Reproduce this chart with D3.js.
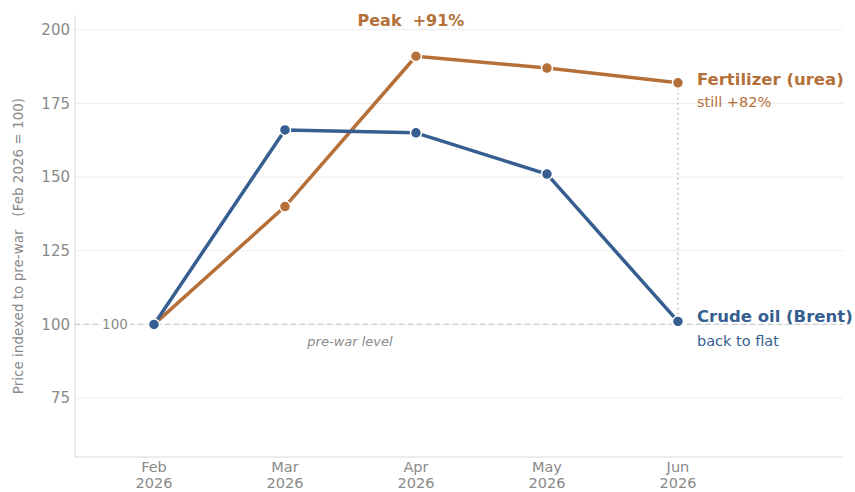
<!DOCTYPE html>
<html><head><meta charset="utf-8">
<script src="https://cdn.jsdelivr.net/npm/d3@7"></script>
<style>body{margin:0;background:#fff;}svg{display:block;font-family:"DejaVu Sans",sans-serif;}</style>
</head><body><svg id="c" width="855" height="492"></svg>
<script>
const months = ["Feb", "Mar", "Apr", "May", "Jun"];
const year = "2026";
const fertilizer = [100, 140, 191, 187, 182];
const crude = [100, 166, 165, 151, 101];
const yTicks = [75, 100, 125, 150, 175, 200];

const orange = "#b5703a", blue = "#365e91", gray = "#8a8a8a";
const svg = d3.select("#c");
const L = 75, R = 843, T = 15, B = 457;
const x = d3.scaleLinear().domain([-0.603, 5.26]).range([L, R]);
const y = d3.scaleLinear().domain([55, 205]).range([B, T]);

// gridlines
svg.append("g").selectAll("line").data(yTicks).join("line")
  .attr("x1", L).attr("x2", R).attr("y1", d => y(d)).attr("y2", d => y(d))
  .attr("stroke", "#ececec").attr("stroke-width", 1);

// axes lines
svg.append("line").attr("x1", L).attr("x2", L).attr("y1", T).attr("y2", B).attr("stroke", "#d8d8d8");
svg.append("line").attr("x1", L).attr("x2", R).attr("y1", B).attr("y2", B).attr("stroke", "#d8d8d8");

// y tick labels
svg.append("g").selectAll("text").data(yTicks).join("text")
  .attr("x", L - 5).attr("y", d => y(d)).attr("dy", "0.35em").attr("text-anchor", "end")
  .attr("font-size", 15).attr("fill", gray).text(d => d);

// y title
svg.append("text").attr("transform", `translate(23,${(T + B) / 2 + 10}) rotate(-90)`)
  .attr("text-anchor", "middle").attr("font-size", 13.5).attr("fill", gray)
  .attr("xml:space", "preserve").text("Price indexed to pre-war   (Feb 2026 = 100)");

// x tick labels
const xt = svg.append("g").selectAll("text").data(months).join("text")
  .attr("x", (d, i) => x(i)).attr("text-anchor", "middle").attr("font-size", 14.5).attr("fill", gray);
xt.append("tspan").attr("x", (d, i) => x(i)).attr("y", 472).text(d => d);
xt.append("tspan").attr("x", (d, i) => x(i)).attr("y", 488).text(year);

// baseline 100
svg.append("line").attr("x1", L).attr("x2", R).attr("y1", y(100)).attr("y2", y(100))
  .attr("stroke", "#c8ccd2").attr("stroke-dasharray", "5,4").attr("stroke-width", 1.2);
svg.append("rect").attr("x", 101).attr("y", y(100) - 8).attr("width", 29).attr("height", 16).attr("fill", "#fff");
svg.append("text").attr("x", 115).attr("y", y(100)).attr("dy", "0.35em").attr("text-anchor", "middle")
  .attr("font-size", 13.5).attr("fill", gray).text("100");
svg.append("text").attr("x", 350).attr("y", 346).attr("text-anchor", "middle")
  .attr("font-size", 13).attr("font-style", "italic").attr("fill", gray).text("pre-war level");

// dotted vertical at Jun
svg.append("line").attr("x1", x(4)).attr("x2", x(4)).attr("y1", y(fertilizer[4])).attr("y2", y(crude[4]))
  .attr("stroke", "#b8b8a8").attr("stroke-dasharray", "2,3").attr("stroke-width", 1.2);

const line = d3.line().x((d, i) => x(i)).y(d => y(d));
function series(data, color) {
  svg.append("path").datum(data).attr("d", line).attr("fill", "none")
    .attr("stroke", color).attr("stroke-width", 3.5).attr("stroke-linejoin", "round");
  svg.append("g").selectAll("circle").data(data).join("circle")
    .attr("cx", (d, i) => x(i)).attr("cy", d => y(d)).attr("r", 5.5)
    .attr("fill", color).attr("stroke", "#fff").attr("stroke-width", 1.5);
}
series(fertilizer, orange);
series(crude, blue);

// labels
svg.append("text").attr("x", x(4) + 19).attr("y", y(fertilizer[4]) + 2).attr("font-size", 16.5).attr("font-weight", "bold")
  .attr("fill", orange).text("Fertilizer (urea)");
svg.append("text").attr("x", x(4) + 19).attr("y", y(fertilizer[4]) + 24).attr("font-size", 14.5)
  .attr("fill", orange).text("still +82%");
svg.append("text").attr("x", x(4) + 19).attr("y", y(crude[4]) + 1).attr("font-size", 16.5).attr("font-weight", "bold")
  .attr("fill", blue).text("Crude oil (Brent)");
svg.append("text").attr("x", x(4) + 19).attr("y", y(crude[4]) + 25).attr("font-size", 14.5)
  .attr("fill", blue).text("back to flat");
svg.append("text").attr("x", x(2) - 5).attr("y", 26).attr("text-anchor", "middle").attr("font-size", 16)
  .attr("font-weight", "bold").attr("fill", orange).attr("xml:space", "preserve").text("Peak  +91%");
</script></body></html>
